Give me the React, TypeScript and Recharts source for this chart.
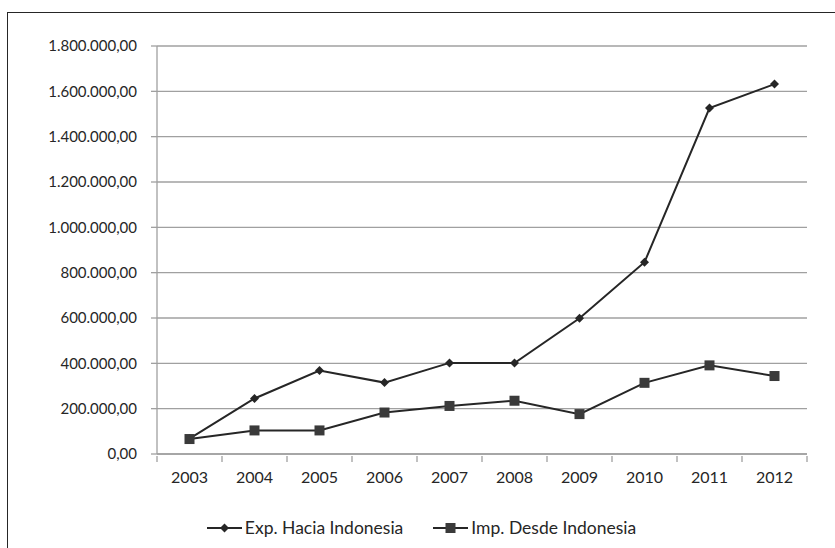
import React from 'react';
import {
    LineChart,
    Line,
    XAxis,
    YAxis,
    CartesianGrid,
    Legend,
} from 'recharts';

const years = ['2003', '2004', '2005', '2006', '2007', '2008', '2009', '2010', '2011', '2012'];
const expHacia = [68000, 245000, 368000, 315000, 402000, 401000, 599000, 846000, 1526000, 1632000];
const impDesde = [66000, 104000, 104000, 183000, 212000, 235000, 176000, 314000, 391000, 344000];
const yTicks = [0, 200000, 400000, 600000, 800000, 1000000, 1200000, 1400000, 1600000, 1800000];

const seriesNames = { exp: 'Exp. Hacia Indonesia', imp: 'Imp. Desde Indonesia' };

const FONT = 'Lato, "Open Sans", sans-serif';
const INK = '#262626';
const GRID = '#a0a0a0';

const rows = years.map((y, i) => ({ year: y, exp: expHacia[i], imp: impDesde[i] }));

// 1800000 -> "1.800.000,00"
function formatEs(n: number) {
    const s = Math.round(n).toString();
    return s.replace(/\B(?=(\d{3})+(?!\d))/g, '.') + ',00';
}

const STEP = 65;

function XTick(props: any) {
    const { x, y, payload, index } = props;
    const last = index === years.length - 1;
    return (
        <g>
            <line x1={x - STEP / 2} x2={x - STEP / 2} y1={y - 10} y2={y - 4} stroke={GRID} strokeWidth={1.3} />
            {last && (
                <line x1={x + STEP / 2} x2={x + STEP / 2} y1={y - 10} y2={y - 4} stroke={GRID} strokeWidth={1.3} />
            )}
            <text x={x} y={y + 17} textAnchor="middle" fill={INK} fontSize={16} fontFamily={FONT}>
                {payload.value}
            </text>
        </g>
    );
}

function Diamond(props: any) {
    const { cx, cy } = props;
    if (cx == null || cy == null) return null;
    const r = 4.5;
    return (
        <path
            d={`M${cx},${cy - r} L${cx + r},${cy} L${cx},${cy + r} L${cx - r},${cy} Z`}
            fill={INK}
        />
    );
}

function Square(props: any) {
    const { cx, cy } = props;
    if (cx == null || cy == null) return null;
    const r = 5;
    return <rect x={cx - r} y={cy - r} width={r * 2} height={r * 2} fill="#3a3a3a" />;
}

function LegendBox() {
    const item = (label: string, kind: 'd' | 's', gap: number) => (
        <div style={{ display: 'flex', alignItems: 'center', marginRight: gap }}>
            <svg width={35} height={12} style={{ marginRight: 3 }}>
                <line x1={0} x2={35} y1={6} y2={6} stroke={INK} strokeWidth={2} />
                {kind === 'd' ? (
                    <path d="M17.5,1.5 L22,6 L17.5,10.5 L13,6 Z" fill={INK} />
                ) : (
                    <rect x={12.5} y={1} width={10} height={10} fill="#3a3a3a" />
                )}
            </svg>
            <span style={{ fontFamily: FONT, fontSize: 17.5, color: INK }}>{label}</span>
        </div>
    );
    return (
        <div style={{ display: 'flex', justifyContent: 'center', paddingLeft: 36 }}>
            {item(seriesNames.exp, 'd', 30)}
            {item(seriesNames.imp, 's', 0)}
        </div>
    );
}

export default function App() {
    return (
        <div
            style={{
                position: 'absolute',
                left: 0,
                top: 0,
                width: 835,
                height: 548,
                overflow: 'hidden',
                background: '#fff',
            }}
        >
            <div
                style={{
                    position: 'absolute',
                    left: 7,
                    top: 12,
                    width: 900,
                    height: 600,
                    border: `1.5px solid ${INK}`,
                }}
            />
            <div style={{ position: 'absolute', left: 0, top: 0 }}>
                <LineChart
                    width={835}
                    height={548}
                    data={rows}
                    margin={{ top: 46, right: 28, left: 0, bottom: 11 }}
                >
                    <CartesianGrid vertical={false} stroke={GRID} strokeWidth={1.3} />
                    <XAxis
                        dataKey="year"
                        padding={{ left: STEP / 2, right: STEP / 2 }}
                        tickLine={false}
                        axisLine={{ stroke: GRID, strokeWidth: 1.3 }}
                        tick={<XTick />}
                        tickSize={10}
                        height={63}
                        interval={0}
                    />
                    <YAxis
                        domain={[0, 1800000]}
                        ticks={yTicks}
                        interval={0}
                        width={157}
                        tickSize={6}
                        tickMargin={14}
                        tickFormatter={(v) => formatEs(Number(v))}
                        tickLine={{ stroke: GRID, strokeWidth: 1.3 }}
                        axisLine={{ stroke: GRID, strokeWidth: 1.3 }}
                        tick={{ fill: INK, fontSize: 15, fontFamily: FONT }}
                    />
                    <Legend verticalAlign="bottom" height={20} content={<LegendBox />} />
                    <Line
                        dataKey="exp"
                        name={seriesNames.exp}
                        stroke={INK}
                        strokeWidth={2}
                        dot={<Diamond />}
                        activeDot={false}
                        isAnimationActive={false}
                    />
                    <Line
                        dataKey="imp"
                        name={seriesNames.imp}
                        stroke={INK}
                        strokeWidth={2}
                        dot={<Square />}
                        activeDot={false}
                        isAnimationActive={false}
                    />
                </LineChart>
            </div>
        </div>
    );
}
